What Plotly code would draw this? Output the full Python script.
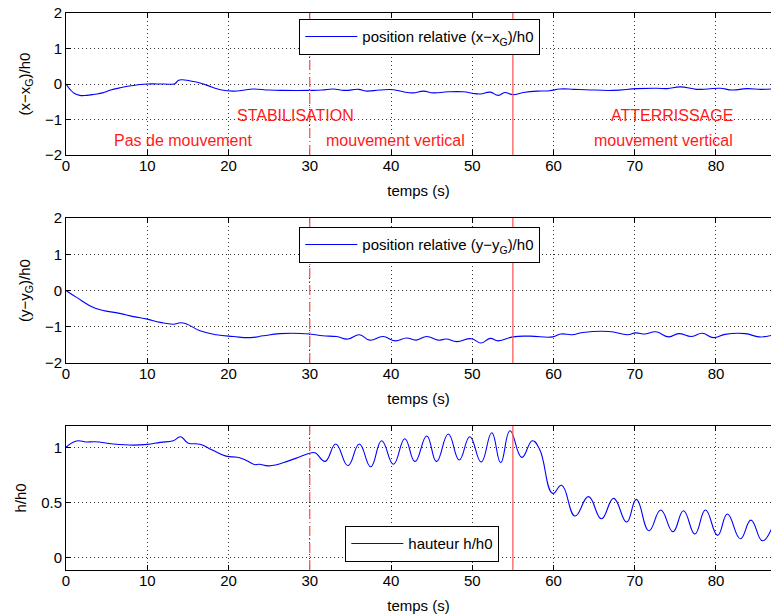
import plotly.graph_objects as go

# ---------------- data ----------------
t_x = [0, 0.5, 1.0, 1.7, 2.5, 3.5, 4.5, 5.5, 6.6, 8, 10, 12, 13.4, 13.8, 14.3, 15.2, 16.5, 18, 19, 20.6,
       22, 23, 25, 26.7, 30, 31.5, 32.9, 33.8, 34.5, 36, 37, 38.6, 40.3, 41.5, 42.7, 44, 45.2, 47, 48.9,
       50, 51, 52.2, 53.2, 54, 55, 56.3, 58, 59.5, 60.8, 62.5, 64, 67.3, 70.3, 72.7, 74, 75.6, 77.6, 79,
       80.5, 82, 83.8, 85.5, 86.8]
x_rel = [0, -0.15, -0.26, -0.32, -0.32, -0.29, -0.25, -0.17, -0.11, -0.05, 0.0, 0.0, 0.01, 0.1, 0.12,
         0.09, 0.03, -0.09, -0.16, -0.2, -0.17, -0.14, -0.17, -0.18, -0.18, -0.17, -0.14, -0.17, -0.18,
         -0.15, -0.2, -0.17, -0.16, -0.22, -0.25, -0.2, -0.25, -0.22, -0.22, -0.26, -0.28, -0.23, -0.32,
         -0.24, -0.3, -0.24, -0.2, -0.19, -0.14, -0.15, -0.16, -0.18, -0.13, -0.12, -0.13, -0.08, -0.15,
         -0.14, -0.12, -0.17, -0.13, -0.15, -0.14]

t_y = [0, 1.3, 3.6, 6.6, 8.3, 10, 11.6, 13.2, 14.1, 14.9, 16.5, 18.5, 20.6, 22.7, 24.3, 26.3, 30, 31.6,
       33.3, 34.7, 36.1, 37.4, 39, 40.5, 41.9, 43.1, 44.4, 45.8, 46.8, 48.1, 49.9, 51.1, 52.2, 53.2, 55,
       57.1, 59.9, 60.9, 62.3, 63.6, 66.8, 69.1, 70.1, 71.3, 72.6, 74.2, 75.4, 77, 78.3, 79.7, 81.1,
       83.6, 85.3, 86.8]
y_rel = [0, -0.19, -0.49, -0.63, -0.72, -0.79, -0.88, -0.93, -0.89, -0.93, -1.11, -1.22, -1.27, -1.3,
         -1.25, -1.19, -1.2, -1.25, -1.27, -1.34, -1.22, -1.37, -1.27, -1.39, -1.31, -1.37, -1.27, -1.37,
         -1.34, -1.41, -1.33, -1.45, -1.32, -1.39, -1.28, -1.26, -1.28, -1.2, -1.22, -1.16, -1.13, -1.22,
         -1.17, -1.2, -1.14, -1.28, -1.19, -1.27, -1.18, -1.3, -1.21, -1.19, -1.28, -1.24]

t_h = [0, 1.3, 2.5, 3.6, 5.8, 8.3, 10, 11.6, 13.2, 14.1, 15, 16.5, 18, 19.7, 21.1, 22.1, 23.2, 23.8,
       25, 27.4, 28.8, 30, 30.65, 31.9, 33.2, 34.7, 36.1, 37.5, 38.85, 40.3, 41.7, 42.95, 44.4, 45.6,
       47.05, 48.4, 49.7, 51.1, 52.4, 53.5, 54.65, 56.1, 57.4, 58.3, 59.9, 61.0, 62.65, 64.3, 65.9,
       67.4, 69.0, 70.2, 71.75, 73.2, 74.7, 76.0, 77.4, 78.7, 80.2, 81.4, 83.0, 84.3, 85.7, 86.8]
h_rel = [1.0, 1.057, 1.048, 1.05, 1.03, 1.02, 1.027, 1.045, 1.06, 1.096, 1.04, 1.027, 0.976, 0.92, 0.91,
         0.886, 0.844, 0.846, 0.832, 0.877, 0.915, 0.946, 0.95, 0.873, 1.03, 0.833, 1.03, 0.824, 1.06,
         0.846, 1.078, 0.87, 1.102, 0.87, 1.12, 0.885, 1.096, 0.867, 1.132, 0.86, 1.15, 0.909, 1.06,
         0.98, 0.583, 0.656, 0.378, 0.553, 0.353, 0.538, 0.323, 0.529, 0.245, 0.432, 0.236, 0.426,
         0.215, 0.432, 0.203, 0.396, 0.172, 0.341, 0.154, 0.257]

x_ticks = [0, 10, 20, 30, 40, 50, 60, 70, 80]
y_ticks_pos = [-2, -1, 0, 1, 2]
y_ticks_h = [0, 0.5, 1]

t_stab = 30
t_land = 55

labels_top = [("STABILISATION", 28.3, -0.9), ("Pas de mouvement", 14.4, -1.6),
              ("mouvement vertical", 40.5, -1.6), ("ATTERRISSAGE", 74.6, -0.9),
              ("mouvement vertical", 73.5, -1.6)]

# ---------------- figure ----------------
FONT = "Liberation Sans, Arial, Helvetica, sans-serif"
BLUE = "#0000FF"
RED = "#FF5A5A"

line_style = dict(color=BLUE, width=1.1, shape="spline", smoothing=1.3)
fig = go.Figure()
fig.add_trace(go.Scatter(x=t_x, y=x_rel, mode="lines", line=line_style,
                         name="position relative (x\u2212x<sub>G</sub>)/h0", xaxis="x", yaxis="y",
                         legend="legend"))
fig.add_trace(go.Scatter(x=t_y, y=y_rel, mode="lines", line=line_style,
                         name="position relative (y\u2212y<sub>G</sub>)/h0", xaxis="x2", yaxis="y2",
                         legend="legend2"))
fig.add_trace(go.Scatter(x=t_h, y=h_rel, mode="lines", line=line_style,
                         name="hauteur h/h0", xaxis="x3", yaxis="y3", legend="legend3"))

XR = [0, 86.77]
GRID = dict(showgrid=True, gridcolor="#333", griddash="1px,3px", gridwidth=1, zeroline=False)
common_x = dict(range=XR, tickvals=x_ticks, ticks="inside", ticklen=5, tickcolor="black",
                showline=True, linecolor="black", linewidth=1, mirror="ticks", automargin=False,
                tickfont=dict(size=15, color="black"), ticklabelstandoff=-3,
                ticklabeloverflow="allow",
                title=dict(text="temps (s)", font=dict(size=15, color="black"), standoff=12), **GRID)
common_y = dict(ticks="inside", ticklen=5, tickcolor="black", showline=True, linecolor="black",
                linewidth=1, mirror=False, automargin=False, ticklabeloverflow="allow",
                tickfont=dict(size=15, color="black"), **GRID)

H = 557.0
d1 = [(570 - 155) / H, 1.0]
d2 = [(570 - 363) / H, (570 - 218) / H]
d3 = [0.0, (570 - 426) / H]

fig.update_layout(
    width=771, height=614,
    margin=dict(l=66, r=0, t=13, b=44, autoexpand=False),
    paper_bgcolor="white", plot_bgcolor="white",
    font=dict(family=FONT, color="black", size=15),
    xaxis=dict(common_x, anchor="y", domain=[0, 1]),
    xaxis2=dict(common_x, anchor="y2", domain=[0, 1]),
    xaxis3=dict(common_x, anchor="y3", domain=[0, 1]),
    yaxis=dict(common_y, anchor="x", domain=d1, range=[-2, 2], tickvals=y_ticks_pos,
               title=dict(text="(x\u2212x<sub>G</sub>)/h0", font=dict(size=15), standoff=10)),
    yaxis2=dict(common_y, anchor="x2", domain=d2, range=[-2, 2], tickvals=y_ticks_pos,
                title=dict(text="(y\u2212y<sub>G</sub>)/h0", font=dict(size=15), standoff=10)),
    yaxis3=dict(common_y, anchor="x3", domain=d3, range=[-0.111, 1.193], tickvals=y_ticks_h,
                ticktext=["0", "0.5", "1"],
                title=dict(text="h/h0", font=dict(size=15), standoff=10)),
    showlegend=True,
)

leg_common = dict(bgcolor="white", bordercolor="black", borderwidth=1.3, itemwidth=52,
                  font=dict(size=15, color="black"), xanchor="left", tracegroupgap=0)
fig.update_layout(
    legend=dict(leg_common, x=(299 - 66) / 705, y=(570 - 19) / H, yanchor="top"),
    legend2=dict(leg_common, x=(299 - 66) / 705, y=(570 - 227) / H, yanchor="top"),
    legend3=dict(leg_common, x=(345 - 66) / 705, y=(570 - 562) / H, yanchor="bottom"),
)

for xa, ya in [("x", "y"), ("x2", "y2"), ("x3", "y3")]:
    fig.add_shape(type="line", xref=xa, yref=ya + " domain", x0=t_stab, x1=t_stab, y0=0, y1=1,
                  line=dict(color=RED, width=1.3, dash="10px,3px,1px,3px"), layer="above")
    fig.add_shape(type="line", xref=xa, yref=ya + " domain", x0=t_land, x1=t_land, y0=0, y1=1,
                  line=dict(color=RED, width=1.3), layer="above")

for txt, tx, ty in labels_top:
    fig.add_annotation(x=tx, y=ty, xref="x", yref="y", text=txt, showarrow=False,
                       font=dict(size=16, color="#FF1A1A"), xanchor="center", yanchor="middle")

# remove the browser's default 8px body margin so the figure fills the window exactly
fig.write_html("out.html", config={"displayModeBar": False},
               post_script="document.body.style.margin='0';document.body.style.overflow='hidden';")
